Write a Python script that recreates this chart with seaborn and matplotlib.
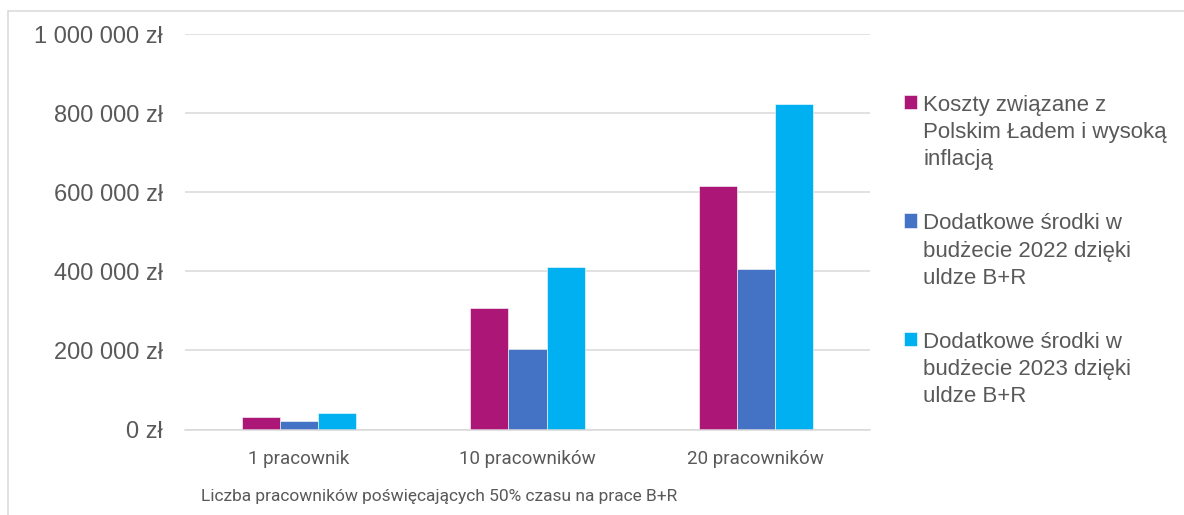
import textwrap

import numpy as np
import pandas as pd
import matplotlib
matplotlib.use("Agg")
import matplotlib.pyplot as plt
from matplotlib.lines import Line2D
from matplotlib.ticker import FuncFormatter, MultipleLocator
import seaborn as sns


categories = ["1 pracownik", "10 pracowników", "20 pracowników"]

series = [
    "Koszty związane z Polskim Ładem i wysoką inflacją",
    "Dodatkowe środki w budżecie 2022 dzięki uldze B+R",
    "Dodatkowe środki w budżecie 2023 dzięki uldze B+R",
]

koszty = [30700, 307000, 615000]
srodki_2022 = [20300, 203000, 406000]
srodki_2023 = [41100, 411000, 823000]

colors = ["#AB1677", "#4472C4", "#00B0F0"]

x_title = "Liczba pracowników poświęcających 50% czasu na prace B+R"

text_color = "#595959"
grid_color = "#D9D9D9"

df = pd.DataFrame({
    "kategoria": categories * 3,
    "seria": np.repeat(series, 3),
    "wartosc": koszty + srodki_2022 + srodki_2023,
})

sns.set_theme(style="white")
plt.rcParams["font.family"] = ["Liberation Sans", "DejaVu Sans"]

fig = plt.figure(figsize=(11.84, 5.15), dpi=100)
ax = fig.add_axes([185 / 1184, 85.5 / 515, 685 / 1184, 395.5 / 515])

sns.barplot(
    data=df,
    x="kategoria",
    y="wartosc",
    hue="seria",
    hue_order=series,
    order=categories,
    palette=colors,
    saturation=1,
    width=0.5,
    gap=0,
    edgecolor="white",
    linewidth=0.4,
    errorbar=None,
    ax=ax,
)

ax.set_xlim(-0.5, 2.5)
ax.set_ylim(0, 1000000)
ax.yaxis.set_major_locator(MultipleLocator(200000))
ax.yaxis.set_major_formatter(
    FuncFormatter(lambda v, p: f"{int(v):,}".replace(",", "\u00a0") + " zł")
)

ax.grid(axis="y", color=grid_color, linewidth=1.1)
ax.set_axisbelow(True)
for side in ["top", "right", "left"]:
    ax.spines[side].set_visible(False)
ax.spines["bottom"].set_color(grid_color)
ax.spines["bottom"].set_linewidth(1.1)

ax.tick_params(axis="y", length=0, pad=15.8, labelsize=17, labelcolor=text_color)
ax.tick_params(axis="x", length=0, pad=15, labelcolor=text_color)
for lab in ax.get_xticklabels():
    lab.set_family(["Roboto", "DejaVu Sans"])
    lab.set_fontsize(13.5)

ax.set_ylabel("")
ax.set_xlabel(x_title, fontsize=12.5, color=text_color,
              family=["Roboto", "DejaVu Sans"])
ax.xaxis.set_label_coords((439.5 - 185) / 685, -67 / 395.5)
ax.xaxis.label.set_va("center")

# legend with wrapped labels, marker aligned to first line
handles, _ = ax.get_legend_handles_labels()
ax.get_legend().remove()
leg = ax.legend(
    handles,
    [textwrap.fill(s, 22) for s in series],
    loc="upper left",
    bbox_to_anchor=(904 / 1184, 1 - 95 / 515),
    bbox_transform=fig.transFigure,
    frameon=False,
    fontsize=16,
    handlelength=0.6,
    handleheight=0.6,
    handletextpad=0.27,
    labelspacing=1.95,
    borderpad=0,
    borderaxespad=0,
)
for t in leg.get_texts():
    t.set_color(text_color)
    t.set_linespacing(1.38)
for col in leg._legend_handle_box.get_children():
    for row in col.get_children():
        row.align = "top"

# chart frame
fig.add_artist(Line2D([7.5 / 1184, 1], [1 - 10.5 / 515, 1 - 10.5 / 515],
                      transform=fig.transFigure, color=grid_color, linewidth=1.1))
fig.add_artist(Line2D([7.5 / 1184, 7.5 / 1184], [0, 1 - 10.5 / 515],
                      transform=fig.transFigure, color=grid_color, linewidth=1.1))

fig.savefig("out.png", dpi=100)
